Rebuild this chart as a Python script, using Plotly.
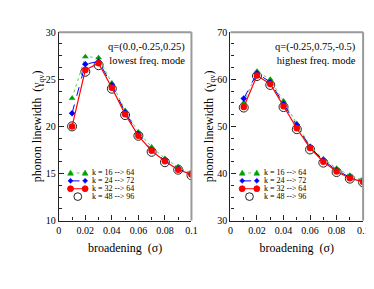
import plotly.graph_objects as go

PAGE_W, PAGE_H = 374, 289
OFF = 8  # default body margin of the html page
W, H = PAGE_W - OFF, PAGE_H - OFF

sigma = [0.01, 0.02, 0.03, 0.04, 0.05, 0.06, 0.07, 0.08, 0.09, 0.10]

# left panel: q=(0.0,-0.25,0.25), lowest freq. mode
low_k16 = [23.0, 27.4, 27.3, 24.6, 21.7, 19.4, 17.8, 16.6, 15.7, 15.0]
low_k24 = [21.4, 26.6, 26.9, 24.4, 21.5, 19.2, 17.5, 16.4, 15.5, 14.9]
low_k32 = [20.0, 26.0, 26.7, 24.1, 21.3, 19.0, 17.4, 16.3, 15.4, 14.9]
low_k48 = [20.0, 25.8, 26.5, 24.0, 21.2, 19.0, 17.3, 16.2, 15.4, 14.8]

# right panel: q=(-0.25,0.75,-0.5), highest freq. mode
high_k16 = [55.0, 61.7, 60.0, 55.4, 50.6, 45.8, 43.1, 41.1, 39.6, 38.6]
high_k24 = [55.9, 61.3, 59.4, 54.8, 50.3, 45.6, 42.8, 40.7, 39.2, 38.3]
high_k32 = [54.1, 60.8, 59.0, 54.3, 49.6, 45.4, 42.5, 40.4, 39.0, 38.2]
high_k48 = [54.0, 60.7, 58.8, 54.1, 49.4, 45.1, 42.3, 40.3, 38.9, 38.1]

labels = ["k = 16 --> 64", "k = 24 --> 72", "k = 32 --> 64", "k = 48 --> 96"]
x_ticks = [0, 0.02, 0.04, 0.06, 0.08, 0.1]
x_ticktext = ["0", "0.02", "0.04", "0.06", "0.08", "0.1"]
left_yticks = [10, 15, 20, 25, 30]
right_yticks = [30, 40, 50, 60, 70]
left_note = ["q=(0.0,-0.25,0.25)", "lowest freq. mode"]
right_note = ["q=(-0.25,0.75,-0.5)", "highest freq. mode"]

FONT = "Liberation Serif, Times New Roman, serif"
GREEN = "#00a000"
GREEN_LINE = "#66cc66"
BLUE = "#0000ff"
RED = "#ff0000"


def px(x):
    """page pixel x -> paper fraction"""
    return (x - OFF) / W


def py(y):
    """page pixel y -> paper fraction"""
    return 1 - (y - OFF) / H


styles = [
    dict(mode="lines+markers", line=dict(color=GREEN_LINE, width=1, dash="dot"),
         marker=dict(symbol="triangle-up", size=6, color=GREEN)),
    dict(mode="lines+markers", line=dict(color=BLUE, width=1, dash="dash"),
         marker=dict(symbol="diamond", size=5, color=BLUE)),
    dict(mode="lines+markers", line=dict(color=RED, width=1.2),
         marker=dict(symbol="circle", size=6.5, color=RED)),
    dict(mode="markers",
         marker=dict(symbol="circle-open", size=9, color="#222222", line=dict(width=1))),
]

fig = go.Figure()
for series, xa, ya in [([low_k16, low_k24, low_k32, low_k48], "x", "y"),
                       ([high_k16, high_k24, high_k32, high_k48], "x2", "y2")]:
    for i in [3, 0, 1, 2]:  # open circles underneath the coloured marks
        fig.add_trace(go.Scatter(x=sigma, y=series[i], name=labels[i], xaxis=xa, yaxis=ya,
                                 showlegend=False, **styles[i]))

xl = [px(57), px(193)]
xr = [px(233), px(369)]
yd = [py(224), py(28)]

axis_common = dict(showgrid=False, zeroline=False, showline=True, linecolor="#222222",
                   linewidth=1.2, ticks="inside", ticklen=5, tickwidth=1, tickcolor="#222222",
                   tickfont=dict(family=FONT, size=10, color="black"))

xcommon = dict(axis_common, range=[0, 0.1], tickvals=x_ticks, ticktext=x_ticktext,
               minor=dict(dtick=0.01, ticks="inside", ticklen=3, tickcolor="#222222", tick0=0),
               title=dict(text="broadening  (σ)", font=dict(family=FONT, size=12, color="black"),
                          standoff=8))

ytitle = "phonon linewidth  (γ<sub>qν</sub>)"

fig.update_layout(
    width=W, height=H,
    margin=dict(l=0, r=0, t=0, b=0),
    paper_bgcolor="white", plot_bgcolor="white",
    showlegend=False,
    xaxis=dict(xcommon, domain=xl, anchor="y"),
    xaxis2=dict(xcommon, domain=xr, anchor="y2"),
    yaxis=dict(axis_common, domain=yd, anchor="x", range=[10, 30], tickvals=left_yticks,
               minor=dict(dtick=1.25, tick0=10, ticks="inside", ticklen=3, tickcolor="#222222"),
               title=dict(text=ytitle, font=dict(family=FONT, size=12, color="black"), standoff=0)),
    yaxis2=dict(axis_common, domain=yd, anchor="x2", range=[30, 70], tickvals=right_yticks,
                minor=dict(dtick=2.5, tick0=30, ticks="inside", ticklen=3, tickcolor="#222222"),
                title=dict(text=ytitle, font=dict(family=FONT, size=12, color="black"), standoff=0)),
)

# grey top / right frame
for xr_, yr_ in [("x domain", "y domain"), ("x2 domain", "y2 domain")]:
    fig.add_shape(type="line", xref=xr_, yref=yr_, x0=0, x1=1, y0=1, y1=1,
                  line=dict(color="#9a9a9a", width=2))
    fig.add_shape(type="line", xref=xr_, yref=yr_, x0=1, x1=1, y0=0, y1=1,
                  line=dict(color="#9a9a9a", width=2))

# panel notes
for dom, note in [(xl, left_note), (xr, right_note)]:
    fig.add_annotation(xref="paper", yref="paper", x=dom[1] - 5 / W, y=py(35),
                       xanchor="right", yanchor="top", showarrow=False, align="right",
                       text="<br>".join(note),
                       font=dict(family=FONT, size=10.5, color="black"))


def tri(cx, cy, r):
    return (f"M {px(cx - r)},{py(cy + r * 0.8)} L {px(cx + r)},{py(cy + r * 0.8)} "
            f"L {px(cx)},{py(cy - r)} Z")


def dia(cx, cy, r):
    return (f"M {px(cx)},{py(cy - r)} L {px(cx + r)},{py(cy)} L {px(cx)},{py(cy + r)} "
            f"L {px(cx - r)},{py(cy)} Z")


def circ(cx, cy, r, fill, line_color):
    fig.add_shape(type="circle", xref="paper", yref="paper",
                  x0=px(cx - r), x1=px(cx + r), y0=py(cy + r), y1=py(cy - r),
                  fillcolor=fill, line=dict(color=line_color, width=1))


# compact hand-built legend
row0, drow = 174.5, 8.2
dashes = ["dot", "dash", "solid"]
lcols = [GREEN_LINE, BLUE, RED]
for ax0 in [57, 233]:
    lx0, lx1 = ax0 + 12, ax0 + 27
    for i, lab in enumerate(labels):
        cy = row0 + i * drow
        if i < 3:
            fig.add_shape(type="line", xref="paper", yref="paper", x0=px(lx0), x1=px(lx1),
                          y0=py(cy), y1=py(cy), line=dict(color=lcols[i], width=1, dash=dashes[i]))
            for cx in (lx0, lx1):
                if i == 0:
                    fig.add_shape(type="path", xref="paper", yref="paper", path=tri(cx, cy, 3),
                                  fillcolor=GREEN, line=dict(color=GREEN, width=0.5))
                elif i == 1:
                    fig.add_shape(type="path", xref="paper", yref="paper", path=dia(cx, cy, 2.6),
                                  fillcolor=BLUE, line=dict(color=BLUE, width=0.5))
                else:
                    circ(cx, cy, 3.0, RED, RED)
        else:
            circ((lx0 + lx1) / 2, cy, 4.0, "rgba(0,0,0,0)", "#222222")
        fig.add_annotation(xref="paper", yref="paper", x=px(lx1 + 5), y=py(cy),
                           xanchor="left", yanchor="middle", showarrow=False, text=lab,
                           font=dict(family=FONT, size=8, color="black"))

fig.write_html("out.html")
